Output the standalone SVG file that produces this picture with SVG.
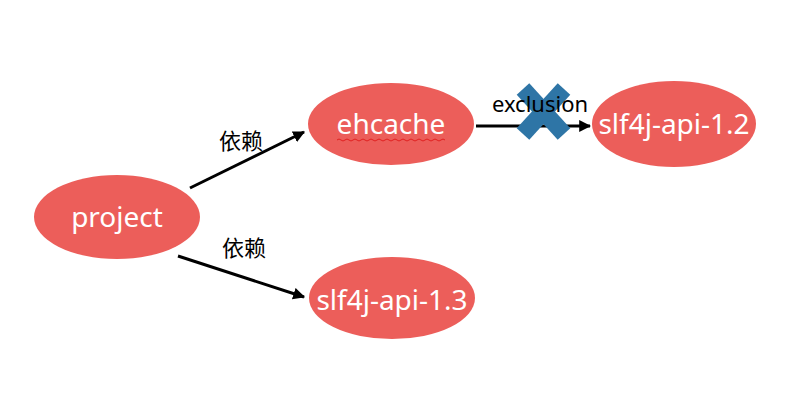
<svg xmlns="http://www.w3.org/2000/svg" width="805" height="401" viewBox="0 0 805 401">
<defs>
<style>
.node{fill:#EC5E5A;}
.nt{fill:#fff;font-family:"Noto Sans","Liberation Sans",sans-serif;font-size:28px;text-anchor:middle;}
.lb{fill:#000;font-family:"Noto Sans","Noto Sans CJK SC",sans-serif;font-size:22px;text-anchor:middle;}
.edge{stroke:#000;stroke-width:3;fill:none;marker-end:url(#ah);}
</style>
<marker id="ah" viewBox="0 0 10 10" refX="9" refY="5" markerWidth="4" markerHeight="4" orient="auto" markerUnits="strokeWidth">
<path d="M0,0 L10,5 L0,10 z" fill="#000"/>
</marker>
</defs>
<rect width="805" height="401" fill="#fff"/>
<g id="connectors">
<line class="edge" x1="190" y1="188" x2="304" y2="132"/>
<line class="edge" x1="178" y1="256" x2="304" y2="297"/>
<line class="edge" x1="476" y1="126" x2="590" y2="126"/>
</g>
<g id="cross">
<line x1="523" y1="89" x2="564" y2="134" stroke="#2E75A6" stroke-width="17"/>
<line x1="564" y1="89" x2="523" y2="134" stroke="#2E75A6" stroke-width="17"/>
</g>
<g id="labels">
<text class="lb" x="241" y="149" font-family="Noto Sans CJK SC">依赖</text>
<text class="lb" x="244" y="256" font-family="Noto Sans CJK SC">依赖</text>
<text class="lb" x="540" y="112">exclusion</text>
</g>
<g id="project">
<ellipse class="node" cx="117" cy="217" rx="83" ry="42"/>
<text class="nt" x="117" y="227">project</text>
</g>
<g id="ehcache">
<ellipse class="node" cx="391" cy="124" rx="83" ry="41"/>
<text class="nt" x="391" y="134">ehcache</text>
<path d="M337,140 q2,-2 4,0 t4,0 t4,0 t4,0 t4,0 t4,0 t4,0 t4,0 t4,0 t4,0 t4,0 t4,0 t4,0 t4,0 t4,0 t4,0 t4,0 t4,0 t4,0 t4,0 t4,0 t4,0 t4,0 t4,0 t4,0 t4,0 t4,0" stroke="#E02020" stroke-width="1" fill="none"/>
</g>
<g id="slf4j12">
<ellipse class="node" cx="674" cy="124" rx="82" ry="43"/>
<text class="nt" x="674" y="134">slf4j-api-1.2</text>
</g>
<g id="slf4j13">
<ellipse class="node" cx="392" cy="298" rx="83" ry="41"/>
<text class="nt" x="392" y="310">slf4j-api-1.3</text>
</g>
</svg>
